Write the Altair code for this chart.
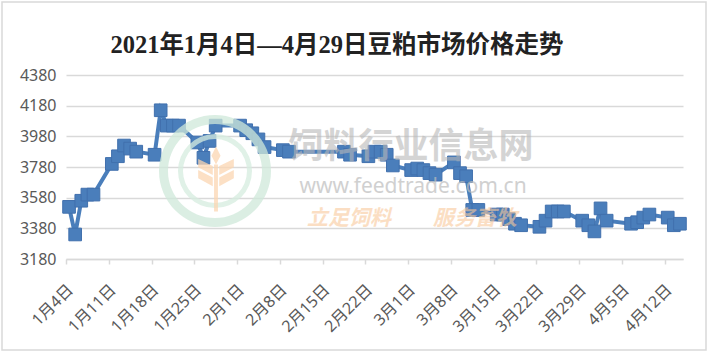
import altair as alt
import pandas as pd

# ---- data ----
dates = ["01-04", "01-05", "01-06", "01-07", "01-08",
         "01-11", "01-12", "01-13", "01-14", "01-15",
         "01-18", "01-19", "01-20", "01-21", "01-22",
         "01-25", "01-26", "01-27", "01-28",
         "02-01", "02-02", "02-03", "02-04", "02-05",
         "02-08", "02-09",
         "02-18", "02-19",
         "02-22", "02-23", "02-24", "02-25", "02-26",
         "03-01", "03-02", "03-03", "03-04", "03-05",
         "03-08", "03-09", "03-10", "03-11", "03-12",
         "03-15", "03-16", "03-17", "03-18", "03-19",
         "03-22", "03-23", "03-24", "03-25", "03-26",
         "03-29", "03-30", "03-31", "04-01", "04-02",
         "04-06", "04-07", "04-08", "04-09",
         "04-12", "04-13", "04-14"]
prices = [3520, 3340, 3560, 3600, 3600,
          3800, 3850, 3920, 3900, 3880,
          3860, 4150, 4050, 4050, 4050,
          3940, 3840, 3950, 4050,
          4050, 4020, 4000, 3960, 3910,
          3890, 3880,
          3880, 3860,
          3850, 3880, 3880, 3860, 3790,
          3760, 3770, 3760, 3740, 3730,
          3810, 3740, 3720, 3500, 3500,
          3470, 3470, 3440, 3410, 3400,
          3390, 3430, 3490, 3490, 3490,
          3430, 3400, 3360, 3510, 3430,
          3410, 3420, 3450, 3470,
          3450, 3400, 3410]
tick_labels = ["1月4日", "1月11日", "1月18日", "1月25日", "2月1日", "2月8日",
               "2月15日", "2月22日", "3月1日", "3月8日", "3月15日", "3月22日",
               "3月29日", "4月5日", "4月12日"]
y_ticks = [3180, 3380, 3580, 3780, 3980, 4180, 4380]
title_text = "2021年1月4日—4月29日豆粕市场价格走势"

assert len(dates) == len(prices)

start = pd.Timestamp("2021-01-04")
day = [(pd.Timestamp("2021-" + d) - start).days + 0.5 for d in dates]
df = pd.DataFrame({"day": day, "price": prices})
one = pd.DataFrame({"a": [0]})

BLUE = "#4a7ebb"
GRID = "#d9d9d9"
LABEL = "#595959"
FONT = "Noto Sans, Noto Sans CJK SC"

label_expr = "[" + ",".join("'%s'" % t for t in tick_labels) + "][round(datum.value/7)]"

x_enc = alt.X(
    "day:Q",
    scale=alt.Scale(domain=[0, 101], nice=False, zero=False),
    axis=alt.Axis(
        values=list(range(0, 99, 7)), tickCount=30, labelExpr=label_expr, title=None,
        grid=False, labelAngle=315, labelAlign="right", labelBaseline="middle",
        labelPadding=23, labelOffset=4, tickSize=5, tickColor=GRID, tickWidth=1.5,
        domainColor=GRID, domainWidth=1.5, labelFont=FONT, labelFontSize=16,
        labelColor=LABEL, labelOverlap=False, labelFlush=False,
    ),
)
y_enc = alt.Y(
    "price:Q",
    scale=alt.Scale(domain=[3180, 4380], nice=False, zero=False),
    axis=alt.Axis(
        values=y_ticks, tickCount=20, format="d", title=None, domain=False, ticks=False,
        gridColor=GRID, gridWidth=1.5, labelPadding=10, labelFont=FONT,
        labelFontSize=16, labelColor=LABEL, labelOverlap=False, labelFlush=False,
    ),
)

border = alt.Chart(one).mark_rect(fillOpacity=0, stroke=GRID, strokeWidth=1.5).encode(
    x=alt.value(-64), x2=alt.value(640), y=alt.value(-73), y2=alt.value(275)
)

line = alt.Chart(df).mark_line(color=BLUE, strokeWidth=4).encode(x=x_enc, y=y_enc)
points = alt.Chart(df).mark_point(
    shape="square", filled=True, size=160, color=BLUE, opacity=1,
    stroke="#4170ad", strokeWidth=1,
).encode(x="day:Q", y="price:Q")

# ---- watermark ----
ring1 = alt.Chart(one).mark_arc(
    radius=56, radius2=47, theta=0, theta2=6.2832, color="#cfe8d9", opacity=0.75
).encode(x=alt.value(149), y=alt.value(96))
ring2 = alt.Chart(one).mark_arc(
    radius=37, radius2=32, theta=0, theta2=6.2832, color="#d6ecdf", opacity=0.75
).encode(x=alt.value(149), y=alt.value(96))
wheat_path = (
    "M -0.06 -0.45 L 0.06 -0.45 L 0.06 1 L -0.06 1 Z "
    "M 0 -1 L 0.14 -0.72 L 0 -0.45 L -0.14 -0.72 Z "
    "M -0.1 -0.4 L -0.55 -0.62 L -0.55 -0.36 L -0.1 -0.12 Z "
    "M 0.1 -0.4 L 0.55 -0.62 L 0.55 -0.36 L 0.1 -0.12 Z "
    "M -0.1 -0.05 L -0.55 -0.28 L -0.55 -0.02 L -0.1 0.22 Z "
    "M 0.1 -0.05 L 0.55 -0.28 L 0.55 -0.02 L 0.1 0.22 Z"
)
wheat = alt.Chart(one).mark_point(
    shape=wheat_path, filled=True, size=4200, color="#fbd6b1", opacity=0.75
).encode(x=alt.value(150), y=alt.value(104))
wm1 = alt.Chart(one).mark_text(
    text="饲料行业信息网", fontSize=35, font="Noto Sans CJK SC", fontWeight="bold",
    color="#b8b8b8", opacity=0.6, align="center", baseline="middle",
).encode(x=alt.value(345), y=alt.value(72))
wm2 = alt.Chart(one).mark_text(
    text="www.feedtrade.com.cn", fontSize=21, font="Noto Sans", color="#bdbdbd",
    opacity=0.7, align="center", baseline="middle",
).encode(x=alt.value(347), y=alt.value(112))
wm3 = alt.Chart(one).mark_text(
    text="立足饲料　　服务畜牧", fontSize=21, font="Noto Sans CJK SC", fontWeight="bold",
    fontStyle="italic", color="#f9c99c", opacity=0.6, align="center", baseline="middle",
).encode(x=alt.value(346), y=alt.value(144))

title = alt.Chart(one).mark_text(
    text=title_text, fontSize=24.5, font="Liberation Serif, Noto Sans CJK SC",
    fontWeight="bold", color="#222222", align="center", baseline="middle",
).encode(x=alt.value(271), y=alt.value(-29))

chart = alt.layer(
    border, line, points, ring1, ring2, wheat, wm1, wm2, wm3, title
).properties(
    width=617, height=184,
    padding={"left": 66, "top": 75, "right": 25, "bottom": 94},
    autosize=alt.AutoSizeParams(type="none"),
).configure(background="white").configure_view(stroke=None)

chart.save("out.html", embed_options={"renderer": "svg", "actions": False})
